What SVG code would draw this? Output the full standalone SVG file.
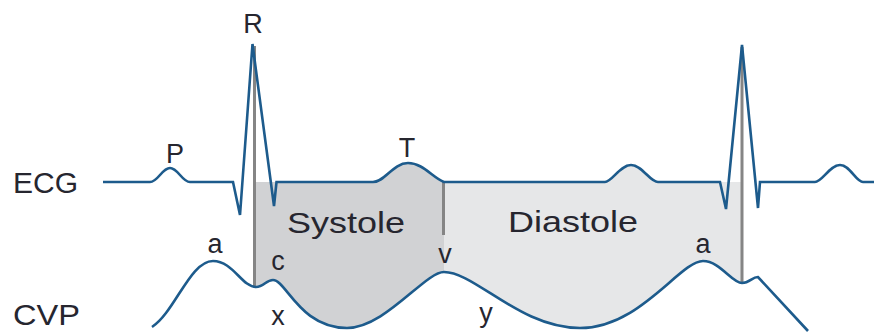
<svg xmlns="http://www.w3.org/2000/svg" width="874" height="332" viewBox="0 0 874 332">
<style>
.wave{fill:none;stroke:#1d5b8c;stroke-width:2.6;stroke-linejoin:miter;stroke-miterlimit:4}
.div{stroke:#858585;stroke-width:3}
.big{font-family:"Liberation Sans",Arial,sans-serif;font-size:30px;fill:#26262f}
.lbl{font-family:"Liberation Sans",Arial,sans-serif;font-size:27px;fill:#26262f;text-anchor:middle}
</style>
<rect width="874" height="332" fill="#ffffff"/>
<g id="systole-region">
<path d="M256,182 H373 C385,182 393,163 408,163 C423,163 433,178 444,182 V272 C425,272 385,328 347,328 C300,328 286,280 273,280 C266,280 264,287 256,287 Z" fill="#d1d2d4"/>
</g>
<g id="diastole-region">
<path d="M444,182 H605 C612,182 620,165 631,165 C642,165 650,182 658,182 H741 V283 C732,283 720,261 703,261 C680,261 640,328 580,328 C520,328 475,272 444,272 Z" fill="#e6e7e8"/>
</g>
<g id="dividers">
<line class="div" x1="254.5" y1="46" x2="254.5" y2="287"/>
<line class="div" x1="443.5" y1="182" x2="443.5" y2="235"/>
<line class="div" x1="742" y1="47" x2="742" y2="283"/>
</g>
<g id="ecg">
<path class="wave" d="M103,182 H150 C158,182 162,168 170,168 C178,168 182,182 190,182 H233 L240,215 L252.5,44 L274,206 L276.5,182 H373 C385,182 393,163 408,163 C423,163 433,178 444,182 H605 C612,182 620,165 631,165 C642,165 650,182 658,182 H720 L726,209 L742,45 L758,208 L760,182 H815 C822,182 830,165 840,165 C850,165 856,182 863,182 H874"/>
</g>
<g id="cvp">
<path class="wave" d="M152,327 C175,312 190,261 213,261 C233,261 242,287 256,287 C264,287 266,280 273,280 C286,280 300,328 347,328 C385,328 425,272 444,272 C475,272 520,328 580,328 C640,328 680,261 703,261 C720,261 732,283 742,283 C750,283 752,277 758,277 L808,331"/>
</g>
<g id="labels">
<text class="big" x="13" y="193" textLength="65" lengthAdjust="spacingAndGlyphs">ECG</text>
<text class="big" x="13" y="325" textLength="67" lengthAdjust="spacingAndGlyphs">CVP</text>
<text class="big" x="287" y="233" textLength="118" lengthAdjust="spacingAndGlyphs">Systole</text>
<text class="big" x="508" y="232" textLength="130" lengthAdjust="spacingAndGlyphs">Diastole</text>
<text class="lbl" x="253" y="33">R</text>
<text class="lbl" x="175" y="163">P</text>
<text class="lbl" x="407" y="157">T</text>
<text class="lbl" x="215" y="253">a</text>
<text class="lbl" x="278" y="270">c</text>
<text class="lbl" x="278" y="325">x</text>
<text class="lbl" x="445" y="263">v</text>
<text class="lbl" x="486" y="322">y</text>
<text class="lbl" x="703" y="253">a</text>
</g>
</svg>
